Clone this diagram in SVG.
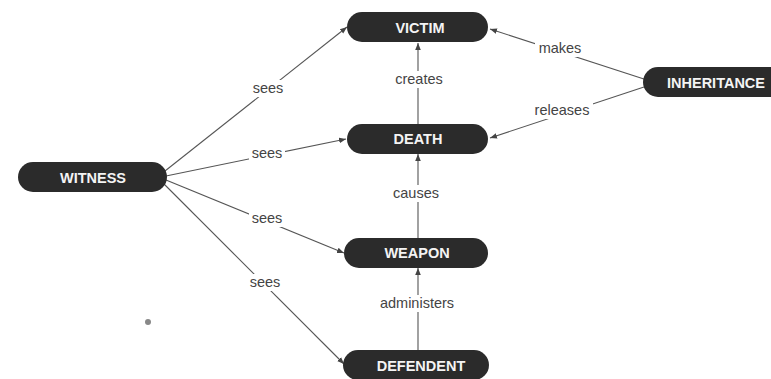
<svg xmlns="http://www.w3.org/2000/svg" width="771" height="379" viewBox="0 0 771 379">
<defs>
<marker id="arr" viewBox="0 0 10 10" refX="10" refY="5" markerWidth="7" markerHeight="7" orient="auto" markerUnits="userSpaceOnUse">
<path d="M0,1 L10,5 L0,9 z" fill="#444"/>
</marker>
<style>
.node rect{fill:#2b2b2b;}
.node text{fill:#f4f4f4;font-family:"Liberation Sans",Arial,sans-serif;font-weight:bold;font-size:14.5px;text-anchor:middle;}
.edge line{stroke:#555;stroke-width:1.1;marker-end:url(#arr);}
.lbl{fill:#444;font-family:"Liberation Sans",Arial,sans-serif;font-size:14.5px;text-anchor:middle;}
.bg{fill:#fff;}
</style>
</defs>
<rect width="771" height="379" fill="#fff"/>
<g id="connectors" class="edge">
<line x1="165" y1="171" x2="347" y2="27"/>
<line x1="166" y1="176" x2="346" y2="139"/>
<line x1="166" y1="180" x2="344" y2="253"/>
<line x1="164" y1="184" x2="344" y2="364"/>
<line x1="418" y1="124" x2="418" y2="43"/>
<line x1="418" y1="238" x2="418" y2="154"/>
<line x1="418" y1="350" x2="418" y2="268"/>
<line x1="647" y1="80" x2="490" y2="29"/>
<line x1="647" y1="86" x2="490" y2="138"/>
</g>
<g id="labels">
<rect class="bg" x="250" y="80" width="36" height="17"/>
<text class="lbl" x="268" y="93">sees</text>
<rect class="bg" x="249" y="145" width="36" height="17"/>
<text class="lbl" x="267" y="158">sees</text>
<rect class="bg" x="249" y="210" width="36" height="17"/>
<text class="lbl" x="267" y="223">sees</text>
<rect class="bg" x="247" y="274" width="36" height="17"/>
<text class="lbl" x="265" y="287">sees</text>
<rect class="bg" x="393" y="71" width="53" height="17"/>
<text class="lbl" x="419" y="84">creates</text>
<rect class="bg" x="390" y="185" width="51" height="17"/>
<text class="lbl" x="416" y="198">causes</text>
<rect class="bg" x="377" y="295" width="81" height="17"/>
<text class="lbl" x="417" y="308">administers</text>
<rect class="bg" x="535" y="40" width="50" height="17"/>
<text class="lbl" x="560" y="53">makes</text>
<rect class="bg" x="531" y="102" width="62" height="17"/>
<text class="lbl" x="562" y="115">releases</text>
</g>
<g id="n-victim" class="node"><rect x="347" y="12" width="141" height="30" rx="15"/><text x="420" y="33">VICTIM</text></g>
<g id="n-death" class="node"><rect x="347" y="124" width="141" height="30" rx="15"/><text x="418" y="144">DEATH</text></g>
<g id="n-weapon" class="node"><rect x="344" y="238" width="144" height="30" rx="15"/><text x="417" y="258">WEAPON</text></g>
<g id="n-defendent" class="node"><rect x="343" y="350" width="146" height="30" rx="15"/><text x="421" y="371">DEFENDENT</text></g>
<g id="n-inheritance" class="node"><rect x="643" y="67" width="150" height="30" rx="15"/><text x="716" y="88">INHERITANCE</text></g>
<g id="n-witness" class="node"><rect x="18" y="162" width="149" height="30" rx="15"/><text x="93" y="183">WITNESS</text></g>
<circle cx="148" cy="322" r="3" fill="#888"/>
</svg>
